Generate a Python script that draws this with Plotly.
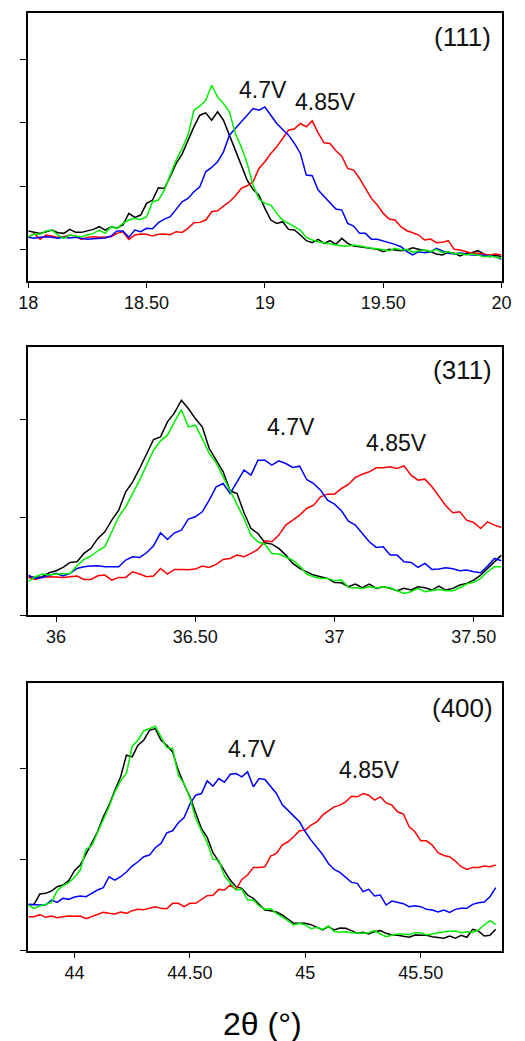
import numpy as np
import plotly.graph_objects as go

# ---- scan grids (2-theta, degrees) ----
step = 0.025
tt_111 = np.round(18.0 + step * np.arange(81), 3)
tt_311 = np.round(35.9 + step * np.arange(69), 3)
tt_400 = np.round(43.8 + step * np.arange(82), 3)

# ---- (111) reflection intensities (a.u.) ----
black_111 = [150, 146, 143, 148, 153, 145, 143, 155, 146, 146,
             151, 155, 163, 153, 163, 159, 168, 203, 191, 198,
             233, 243, 280, 278, 313, 353, 381, 423, 463, 498,
             505, 483, 508, 483, 438, 398, 353, 303, 275, 258,
             218, 183, 173, 178, 155, 153, 138, 121, 115, 125,
             113, 121, 110, 128, 113, 105, 103, 100, 98, 95,
             88, 95, 93, 91, 93, 100, 95, 91, 88, 81,
             78, 86, 83, 75, 83, 85, 91, 81, 73, 78,
             73]
green_111 = [133, 141, 140, 150, 153, 138, 128, 138, 135, 133,
             138, 143, 153, 143, 163, 158, 173, 183, 188, 185,
             193, 238, 243, 273, 318, 363, 398, 438, 513, 525,
             543, 588, 553, 533, 508, 443, 403, 353, 288, 246,
             233, 228, 203, 183, 173, 163, 153, 131, 123, 118,
             115, 113, 108, 105, 105, 108, 105, 101, 98, 97,
             95, 91, 98, 93, 95, 86, 91, 93, 88, 95,
             85, 88, 81, 83, 78, 81, 78, 73, 75, 71,
             68]
blue_111 = [131, 128, 131, 133, 131, 128, 131, 129, 131, 128,
            125, 127, 127, 129, 135, 150, 150, 131, 153, 148,
            158, 157, 175, 186, 193, 215, 238, 248, 268, 283,
            328, 341, 358, 388, 438, 458, 478, 498, 518, 513,
            523, 498, 473, 455, 438, 413, 383, 318, 316, 273,
            253, 235, 216, 213, 173, 165, 143, 143, 125, 125,
            120, 116, 110, 103, 88, 78, 88, 85, 87, 98,
            91, 83, 81, 85, 81, 78, 78, 78, 76, 73,
            65]
red_111 = [131, 143, 125, 138, 135, 131, 133, 138, 135, 125,
           131, 133, 131, 131, 133, 143, 148, 125, 138, 141,
           140, 135, 140, 141, 139, 148, 146, 158, 175, 176,
           183, 208, 211, 225, 238, 255, 278, 286, 298, 338,
           358, 383, 403, 428, 453, 457, 473, 463, 481, 445,
           415, 413, 391, 375, 338, 333, 308, 278, 248, 228,
           203, 186, 183, 163, 151, 145, 138, 123, 126, 115,
           116, 121, 95, 93, 88, 83, 83, 81, 78, 81,
           78]

# ---- (311) reflection intensities (a.u.) ----
black_311 = [115, 113, 115, 127, 133, 143, 158, 160, 185, 200,
             230, 250, 285, 315, 370, 400, 440, 485, 527, 535,
             580, 607, 645, 620, 590, 565, 500, 465, 430, 373,
             365, 307, 260, 245, 217, 213, 200, 180, 155, 140,
             130, 120, 115, 110, 98, 97, 85, 93, 82, 93,
             80, 85, 80, 73, 80, 75, 85, 82, 75, 87,
             75, 80, 90, 95, 105, 120, 140, 160, 180]
green_311 = [100, 115, 123, 120, 123, 123, 125, 148, 167, 177,
             193, 205, 250, 295, 325, 365, 405, 450, 495, 523,
             540, 580, 617, 565, 570, 530, 485, 457, 415, 375,
             335, 290, 240, 220, 212, 185, 183, 173, 165, 147,
             123, 115, 110, 110, 103, 105, 83, 82, 80, 85,
             81, 85, 82, 73, 65, 70, 80, 70, 73, 77,
             73, 73, 82, 93, 98, 110, 130, 145, 145]
blue_311 = [120, 110, 113, 120, 125, 117, 125, 140, 145, 147,
            148, 145, 145, 145, 165, 175, 173, 187, 208, 247,
            227, 247, 255, 288, 295, 310, 345, 385, 395, 365,
            400, 435, 420, 465, 465, 450, 463, 455, 443, 447,
            407, 395, 375, 345, 333, 313, 282, 270, 245, 220,
            203, 205, 180, 180, 160, 158, 143, 155, 137, 138,
            142, 139, 133, 135, 130, 127, 147, 170, 163]
red_311 = [113, 107, 113, 115, 114, 113, 115, 117, 107, 107,
           118, 120, 105, 113, 113, 130, 123, 115, 117, 140,
           123, 137, 137, 136, 138, 147, 143, 152, 167, 170,
           180, 175, 185, 197, 223, 220, 240, 270, 285, 300,
           320, 330, 355, 363, 363, 380, 392, 413, 423, 430,
           442, 442, 445, 440, 448, 420, 405, 408, 385, 355,
           328, 307, 310, 285, 278, 260, 280, 270, 263]

# ---- (400) reflection intensities (a.u.) ----
black_400 = [138, 140, 171, 173, 180, 193, 198, 211, 241, 258,
             291, 323, 358, 403, 438, 483, 523, 588, 583, 618,
             633, 663, 668, 633, 618, 598, 543, 501, 463, 415,
             368, 341, 295, 268, 241, 213, 193, 188, 168, 158,
             140, 123, 121, 117, 108, 95, 83, 83, 83, 79,
             70, 63, 73, 63, 69, 68, 61, 53, 56, 51,
             58, 61, 53, 48, 47, 45, 41, 48, 48, 47,
             43, 41, 38, 45, 38, 47, 41, 65, 60, 45,
             47, 65]
green_400 = [138, 128, 135, 140, 145, 181, 196, 205, 221, 243,
             305, 317, 356, 391, 433, 478, 511, 533, 615, 633,
             661, 668, 675, 643, 611, 608, 528, 503, 461, 398,
             361, 325, 275, 273, 225, 205, 183, 185, 153, 153,
             135, 125, 127, 113, 103, 91, 78, 83, 78, 67,
             71, 65, 75, 58, 56, 58, 55, 53, 53, 55,
             61, 51, 43, 47, 51, 51, 49, 55, 55, 48,
             51, 56, 58, 59, 60, 55, 58, 56, 63, 78,
             91, 80]
blue_400 = [140, 138, 138, 138, 153, 146, 158, 155, 162, 165,
            163, 173, 183, 190, 223, 213, 223, 237, 255, 268,
            283, 288, 310, 323, 355, 361, 385, 401, 441, 468,
            473, 511, 495, 518, 507, 531, 533, 523, 538, 493,
            518, 515, 495, 473, 440, 421, 405, 388, 358, 333,
            311, 290, 263, 245, 236, 221, 206, 203, 178, 185,
            165, 168, 138, 150, 145, 142, 133, 136, 133, 125,
            123, 117, 123, 116, 125, 128, 128, 140, 145, 147,
            163, 190]
red_400 = [103, 103, 109, 101, 105, 100, 103, 105, 104, 105,
           97, 103, 108, 116, 113, 111, 117, 113, 121, 125,
           124, 128, 133, 128, 127, 143, 143, 133, 143, 143,
           154, 166, 167, 185, 183, 198, 185, 215, 228, 251,
           251, 253, 285, 293, 318, 328, 343, 361, 363, 378,
           388, 408, 421, 433, 438, 448, 465, 463, 473, 468,
           453, 463, 445, 438, 418, 411, 373, 358, 331, 331,
           318, 295, 287, 283, 270, 253, 245, 251, 251, 255,
           253, 258]

# ---- axis ticks and labels ----
xticks_111 = [18, 18.5, 19, 19.5, 20]
xlabels_111 = ["18", "18.50", "19", "19.50", "20"]
xticks_311 = [36, 36.5, 37, 37.5]
xlabels_311 = ["36", "36.50", "37", "37.50"]
xticks_400 = [44, 44.5, 45, 45.5]
xlabels_400 = ["44", "44.50", "45", "45.50"]
yticks_111 = [96, 285, 475, 665]
yticks_311 = [0, 294, 587]
yticks_400 = [0, 275, 549]

reflections = ["(111)", "(311)", "(400)"]
voltage_labels = ["4.7V", "4.85V"]

colors = {"black": "#000000", "red": "#ff0000", "blue": "#0000ff", "green": "#00ee00"}

panels = [
    dict(tt=tt_111, series=[("black", black_111), ("red", red_111), ("blue", blue_111), ("green", green_111)],
         xrange=[18, 20], xticks=xticks_111, xlabels=xlabels_111, yticks=yticks_111,
         hkl=(19.833, 732), v47=(18.99, 573), v485=(19.256, 537), dom=[0.7301, 0.9875]),
    dict(tt=tt_311, series=[("black", black_311), ("red", red_311), ("blue", blue_311), ("green", green_311)],
         xrange=[35.9, 37.6], xticks=xticks_311, xlabels=xlabels_311, yticks=yticks_311,
         hkl=(37.46, 735), v47=(36.843, 564), v485=(37.222, 518), dom=[0.4092, 0.6667]),
    dict(tt=tt_400, series=[("black", black_400), ("red", red_400), ("blue", blue_400), ("green", green_400)],
         xrange=[43.8, 45.85], xticks=xticks_400, xlabels=xlabels_400, yticks=yticks_400,
         hkl=(45.68, 731), v47=(44.769, 606), v485=(45.28, 545), dom=[0.0865, 0.3439]),
]

fig = go.Figure()
annotations = []
layout_axes = {}
text_font = "Liberation Sans, Arial, sans-serif"

for i, p in enumerate(panels, start=1):
    suffix = "" if i == 1 else str(i)
    xa, ya = "x" + suffix, "y" + suffix
    for name, vals in p["series"]:
        fig.add_trace(go.Scatter(
            x=p["tt"], y=vals, mode="lines", xaxis=xa, yaxis=ya,
            line=dict(color=colors[name], width=1.5), showlegend=False,
        ))
    layout_axes["xaxis" + suffix] = dict(
        domain=[0.0362, 0.9733], anchor=ya, range=p["xrange"],
        tickmode="array", tickvals=p["xticks"], ticktext=p["xlabels"],
        ticks="outside", ticklen=5, tickwidth=1.2, tickcolor="black",
        showline=True, linecolor="black", linewidth=1.5, mirror=True,
        showgrid=False, zeroline=False, ticklabelstandoff=0,
        tickfont=dict(family=text_font, size=18, color="#111111"),
    )
    layout_axes["yaxis" + suffix] = dict(
        domain=p["dom"], anchor=xa, range=[0, 805],
        tickmode="array", tickvals=p["yticks"], ticktext=[""] * len(p["yticks"]),
        ticks="outside", ticklen=7, tickwidth=1.2, tickcolor="black",
        showline=True, linecolor="black", linewidth=1.5, mirror=True,
        showgrid=False, zeroline=False,
    )
    annotations.append(dict(x=p["hkl"][0], y=p["hkl"][1], xref=xa, yref=ya,
                            text=reflections[i - 1], showarrow=False,
                            xanchor="center", yanchor="middle",
                            font=dict(family=text_font, size=26, color="#111111")))
    annotations.append(dict(x=p["v47"][0], y=p["v47"][1], xref=xa, yref=ya,
                            text=voltage_labels[0], showarrow=False,
                            xanchor="center", yanchor="middle",
                            font=dict(family=text_font, size=23, color="#111111")))
    annotations.append(dict(x=p["v485"][0], y=p["v485"][1], xref=xa, yref=ya,
                            text=voltage_labels[1], showarrow=False,
                            xanchor="center", yanchor="middle",
                            font=dict(family=text_font, size=23, color="#111111")))

annotations.append(dict(x=262 / 525, y=1 - 1024 / 1041, xref="paper", yref="paper",
                        text="2θ (°)", showarrow=False,
                        xanchor="center", yanchor="middle",
                        font=dict(family=text_font, size=32, color="#000000")))

fig.update_layout(
    width=525, height=1041,
    margin=dict(l=0, r=0, t=0, b=0),
    paper_bgcolor="white", plot_bgcolor="white",
    annotations=annotations,
    **layout_axes,
)

fig.write_html("out.html")
